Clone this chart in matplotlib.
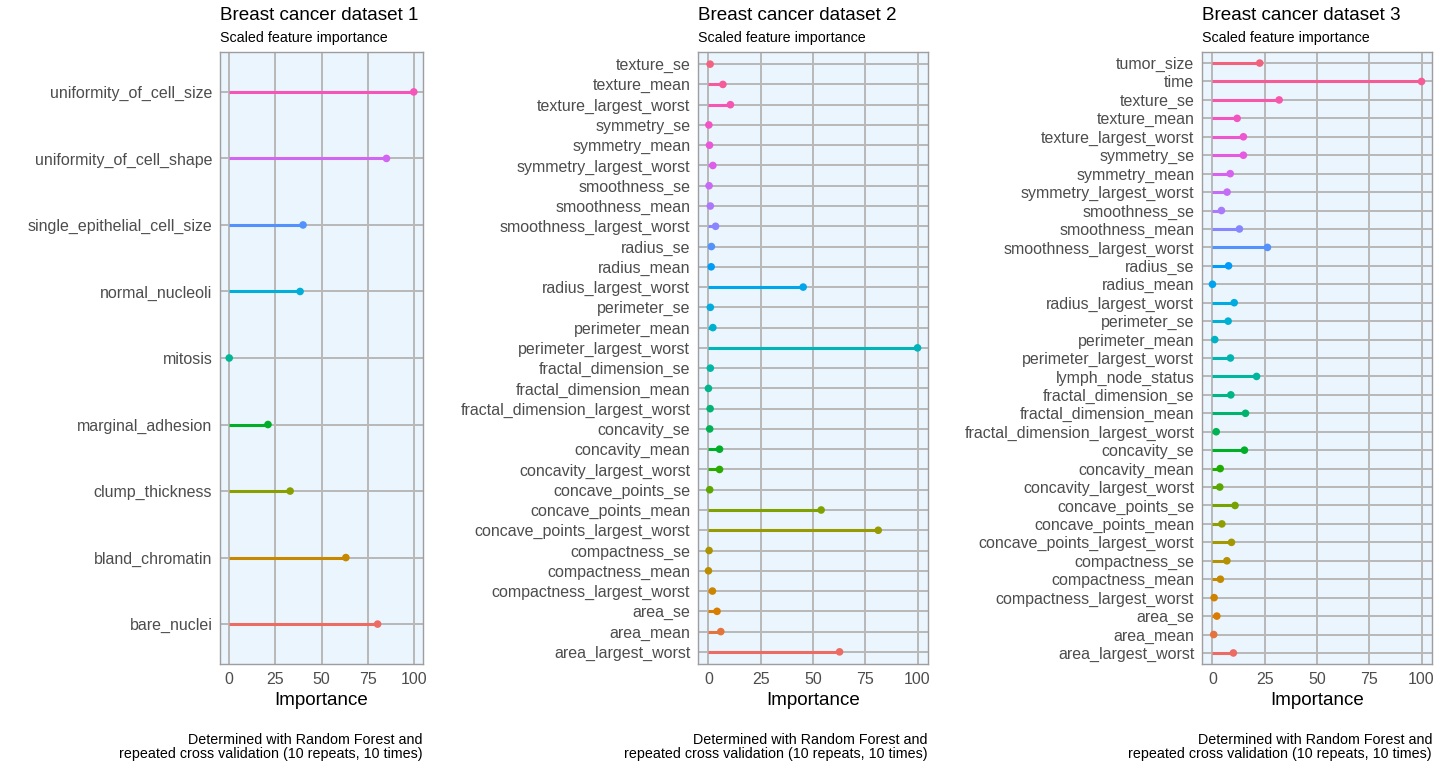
import numpy as np
import matplotlib.pyplot as plt

plt.rcParams['font.family'] = ['Liberation Sans', 'DejaVu Sans']

# --- data (bottom to top, alphabetical as in the factor levels) ---
feat1 = ["bare_nuclei", "bland_chromatin", "clump_thickness", "marginal_adhesion",
         "mitosis", "normal_nucleoli", "single_epithelial_cell_size",
         "uniformity_of_cell_shape", "uniformity_of_cell_size"]
imp1 = [80.4, 63.2, 33.0, 21.0, 0.0, 38.4, 40.0, 85.2, 100.0]

feat2 = ["area_largest_worst", "area_mean", "area_se",
         "compactness_largest_worst", "compactness_mean", "compactness_se",
         "concave_points_largest_worst", "concave_points_mean", "concave_points_se",
         "concavity_largest_worst", "concavity_mean", "concavity_se",
         "fractal_dimension_largest_worst", "fractal_dimension_mean", "fractal_dimension_se",
         "perimeter_largest_worst", "perimeter_mean", "perimeter_se",
         "radius_largest_worst", "radius_mean", "radius_se",
         "smoothness_largest_worst", "smoothness_mean", "smoothness_se",
         "symmetry_largest_worst", "symmetry_mean", "symmetry_se",
         "texture_largest_worst", "texture_mean", "texture_se"]
imp2 = [62.7, 5.9, 4.1,
        1.9, 0.0, 0.3,
        81.2, 53.9, 0.6,
        5.3, 5.3, 0.6,
        0.8, 0.0, 0.9,
        100.0, 2.1, 0.9,
        45.3, 1.3, 1.4,
        3.4, 0.9, 0.3,
        2.1, 0.5, 0.2,
        10.5, 6.9, 0.8]

feat3 = ["area_largest_worst", "area_mean", "area_se",
         "compactness_largest_worst", "compactness_mean", "compactness_se",
         "concave_points_largest_worst", "concave_points_mean", "concave_points_se",
         "concavity_largest_worst", "concavity_mean", "concavity_se",
         "fractal_dimension_largest_worst", "fractal_dimension_mean", "fractal_dimension_se",
         "lymph_node_status",
         "perimeter_largest_worst", "perimeter_mean", "perimeter_se",
         "radius_largest_worst", "radius_mean", "radius_se",
         "smoothness_largest_worst", "smoothness_mean", "smoothness_se",
         "symmetry_largest_worst", "symmetry_mean", "symmetry_se",
         "texture_largest_worst", "texture_mean", "texture_se",
         "time", "tumor_size"]
imp3 = [10.0, 0.6, 2.1,
        0.8, 3.8, 6.9,
        9.1, 4.5, 10.8,
        3.5, 3.7, 15.3,
        1.8, 15.8, 8.8,
        21.1,
        8.6, 1.1, 7.5,
        10.4, 0.0, 7.7,
        26.3, 12.9, 4.3,
        7.0, 8.5, 14.8,
        14.8, 11.8, 31.9,
        100.0, 22.6]

titles = ["Breast cancer dataset 1", "Breast cancer dataset 2", "Breast cancer dataset 3"]
caption = "Determined with Random Forest and\nrepeated cross validation (10 repeats, 10 times)"


def hue_pal(n, c=100, l=61):
    # ggplot-style discrete palette: hcl(h = 15..375, c, l)
    h = np.linspace(15, 375, n + 1)[:n] % 360
    hr = np.deg2rad(h)
    u, v = c * np.cos(hr), c * np.sin(hr)
    Xn, Yn, Zn = 95.047, 100.0, 108.883
    un = 4 * Xn / (Xn + 15 * Yn + 3 * Zn)
    vn = 9 * Yn / (Xn + 15 * Yn + 3 * Zn)
    Y = np.full(n, Yn * ((l + 16) / 116) ** 3)
    up = u / (13 * l) + un
    vp = v / (13 * l) + vn
    X = 9 * Y * up / (4 * vp)
    Z = Y * (12 - 3 * up - 20 * vp) / (4 * vp)
    M = np.array([[3.2404542, -1.5371385, -0.4985314],
                  [-0.9692660, 1.8760108, 0.0415560],
                  [0.0556434, -0.2040259, 1.0572252]])
    rgb = M @ (np.vstack([X, Y, Z]) / 100)
    rgb = np.where(rgb <= 0.0031308, 12.92 * rgb, 1.055 * np.abs(rgb) ** (1 / 2.4) - 0.055)
    return np.clip(rgb.T, 0, 1)


fig = plt.figure(figsize=(14.4, 7.68), dpi=100)

# axes boxes in figure fraction
boxes = [(220 / 1440, 0.1354, 203 / 1440, 0.7969),
         (698 / 1440, 0.1354, 230 / 1440, 0.7969),
         (1202 / 1440, 0.1354, 230 / 1440, 0.7969)]

panels = [(feat1, imp1), (feat2, imp2), (feat3, imp3)]

for (feats, vals), box, title in zip(panels, boxes, titles):
    ax = fig.add_axes(box)
    n = len(feats)
    y = np.arange(1, n + 1)
    cols = hue_pal(n)
    ax.set_facecolor('#EBF5FD')
    ax.hlines(y, 0, vals, colors=cols, lw=2.2, zorder=3)
    ax.scatter(vals, y, c=cols, s=30, zorder=4, linewidths=0)
    ax.set_xlim(-5, 105)
    ax.set_ylim(0.4, n + 0.6)
    ax.set_xticks([0, 25, 50, 75, 100])
    ax.set_xticklabels(["0", "25", "50", "75", "100"])
    ax.set_yticks(y)
    ax.set_yticklabels(feats)
    ax.grid(True, color='#B8B8B8', lw=1.4, zorder=1)
    ax.set_axisbelow(True)
    for s in ax.spines.values():
        s.set_color('#9E9E9E')
        s.set_linewidth(1.0)
    ax.tick_params(length=0, labelsize=11.5, colors='#4D4D4D', pad=5.5)
    ax.set_xlabel("Importance", fontsize=13.5, color='black', labelpad=4)
    ax.text(0, 1.045, title, transform=ax.transAxes, fontsize=13.6, ha='left', va='bottom')
    ax.text(0, 1.012, "Scaled feature importance", transform=ax.transAxes,
            fontsize=10.3, ha='left', va='bottom')
    ax.text(1, -0.112, caption, transform=ax.transAxes, fontsize=10.3,
            ha='right', va='top', linespacing=1.05)

plt.savefig("out.png", dpi=100)
